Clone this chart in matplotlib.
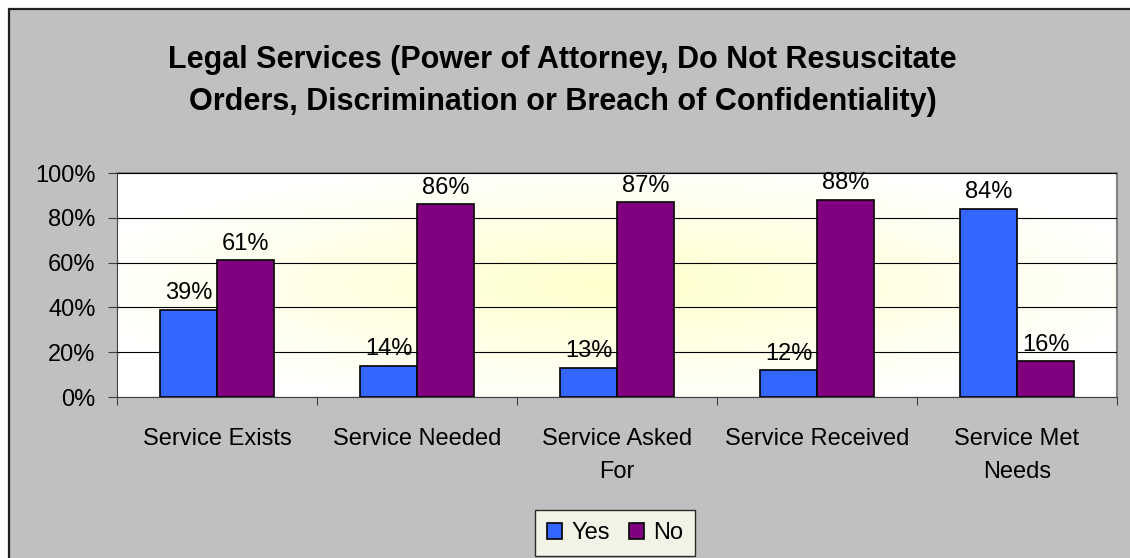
import matplotlib
matplotlib.use('Agg')
import matplotlib.pyplot as plt
import numpy as np
from matplotlib.patches import Rectangle

plt.rcParams['font.family'] = ['Liberation Sans', 'DejaVu Sans']

categories = ['Service Exists', 'Service Needed', 'Service Asked\nFor',
              'Service Received', 'Service Met\nNeeds']
yes_vals = [39, 14, 13, 12, 84]
no_vals = [61, 86, 87, 88, 16]
yes_labels = ['39%', '14%', '13%', '12%', '84%']
no_labels = ['61%', '86%', '87%', '88%', '16%']
yticks = [0, 20, 40, 60, 80, 100]
ytick_labels = ['0%', '20%', '40%', '60%', '80%', '100%']

fig = plt.figure(figsize=(11.3, 5.58), dpi=100)
fig.patch.set_facecolor('white')
# chart area frame (cropped at right and bottom)
fig.patches.append(Rectangle((9/1130, -0.05), 1.1, (558-9)/558 + 0.05, transform=fig.transFigure,
                             facecolor='#C0C0C0', edgecolor='#202020', linewidth=1.6, zorder=-10))

ax = fig.add_axes([117/1130, 1-397/558, 1000/1130, 224/558])
ax.set_xlim(0, 5)
ax.set_ylim(0, 100)

# radial gradient background (white edges, pale yellow centre)
gx, gy = np.meshgrid(np.linspace(-1, 1, 400), np.linspace(-1, 1, 200))
r = np.clip(np.sqrt((gx*0.9)**2 + (gy*0.9)**2), 0, 1)
img = np.zeros((200, 400, 3))
img[..., 0] = 1.0
img[..., 1] = 1.0
img[..., 2] = 0.80 + 0.20*r
ax.imshow(img, extent=[0, 5, 0, 100], aspect='auto', zorder=0)

x = np.arange(len(categories)) + 0.5
w = 0.285
b1 = ax.bar(x - w/2, yes_vals, w, color='#3366FF', edgecolor='black', linewidth=1.2, zorder=3, label='Yes')
b2 = ax.bar(x + w/2, no_vals, w, color='#800080', edgecolor='black', linewidth=1.2, zorder=3, label='No')

for bars, labs in [(b1, yes_labels), (b2, no_labels)]:
    for rect, lab in zip(bars, labs):
        ax.annotate(lab, (rect.get_x() + rect.get_width()/2, rect.get_height()),
                    xytext=(0, 4), textcoords='offset points', ha='center', va='bottom',
                    fontsize=17, zorder=4)

ax.set_yticks(yticks)
ax.set_yticklabels(ytick_labels, fontsize=17)
ax.yaxis.grid(True, color='black', linewidth=0.8, zorder=1)
ax.set_axisbelow(False)
ax.set_xticks(np.arange(0, 6))
ax.set_xticklabels([])
ax.set_xticks(x, minor=True)
ax.set_xticklabels(categories, minor=True, fontsize=17, linespacing=1.65, va='top')
ax.tick_params(axis='x', which='minor', length=0, pad=22)
ax.tick_params(axis='x', which='major', length=6, direction='out', color='#404040')
ax.tick_params(axis='y', length=6.5, direction='out', pad=9, color='#404040')

for s in ['left', 'bottom']:
    ax.spines[s].set_color('#404040')
for s in ['top', 'right']:
    ax.spines[s].set_color('#808080')
    ax.spines[s].set_linewidth(1.5)

fig.text(0.498, 1-81/558, 'Legal Services (Power of Attorney, Do Not Resuscitate\nOrders, Discrimination or Breach of Confidentiality)',
         ha='center', va='center', fontsize=22, fontweight='bold', linespacing=1.55)

leg = fig.legend(handles=[b1, b2], loc='center', bbox_to_anchor=(615/1130, 1-533/558), ncol=2,
                 fontsize=17, frameon=True, fancybox=False, handlelength=0.65, handleheight=0.65,
                 handletextpad=0.4, columnspacing=0.8, borderpad=0.5, borderaxespad=0)
leg.get_frame().set_edgecolor('black')
leg.get_frame().set_facecolor('#FFFFF0')
leg.get_frame().set_linewidth(1.0)

fig.savefig('out.png', dpi=100, facecolor=fig.get_facecolor())
